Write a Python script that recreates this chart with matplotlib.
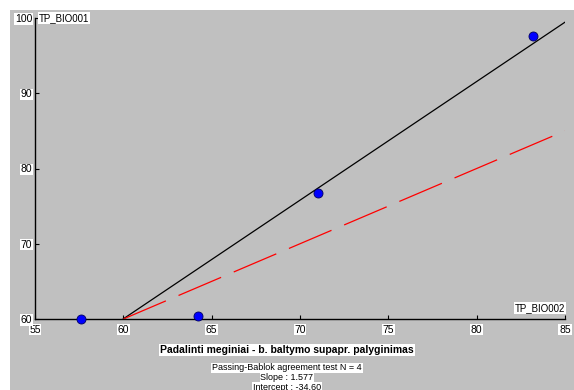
import matplotlib.pyplot as plt
import matplotlib.patches as mpatches
import numpy as np

# measured pairs
x_vals = [57.6, 64.2, 71.0, 83.2]
y_vals = [60.0, 60.4, 76.7, 97.6]

slope = 1.577
intercept = -34.60
line_x = [60, 85]

xticks = [55, 60, 65, 70, 75, 80, 85]
yticks = [60, 70, 80, 90, 100]

plt.rcParams['font.family'] = ['Liberation Sans Narrow', 'Liberation Sans', 'DejaVu Sans']

fig = plt.figure(figsize=(5.74, 3.9), dpi=100)
fig.patch.set_facecolor('white')
fig.patches.append(mpatches.Rectangle((10 / 574, 0), 1, 380 / 390, transform=fig.transFigure,
                                      facecolor='#c0c0c0', edgecolor='none', zorder=-10))

ax = fig.add_axes([35 / 574, 1 - 319 / 390, 530 / 574, 301 / 390])
ax.set_facecolor('#c0c0c0')

fit_y = [slope * v + intercept for v in line_x]
ax.plot(line_x, fit_y, color='black', lw=0.9)
ax.plot(line_x, line_x, color='red', lw=0.9, dashes=(37, 11))
ax.plot(x_vals, y_vals, 'o', color='#0000ff', mec='#000060', mew=0.6, ms=6.5, clip_on=False, zorder=5)

ax.set_xlim(55, 85)
ax.set_ylim(60, 100)
ax.set_xticks(xticks)
ax.set_yticks(yticks)
for s in ['top', 'right']:
    ax.spines[s].set_visible(False)
ax.spines['left'].set_linewidth(1.0)
ax.spines['bottom'].set_linewidth(1.0)
ax.tick_params(direction='in', length=3, width=0.8, labelsize=7.5, pad=2)
ax.tick_params(axis='x', pad=4)
box = dict(facecolor='white', edgecolor='none', pad=0.5)
for lab in ax.get_xticklabels() + ax.get_yticklabels():
    lab.set_bbox(box)

ax.text(55.2, 100, 'TP_BIO001', fontsize=7, va='center', ha='left', bbox=box)
ax.text(85, 60.8, 'TP_BIO002', fontsize=7, va='bottom', ha='right', bbox=box)

fig.text(0.5, 1 - 350 / 390, 'Padalinti meginiai - b. baltymo supapr. palyginimas',
         ha='center', va='center', fontsize=7.5, fontweight='bold', bbox=box)
fig.text(0.5, 1 - 368 / 390, 'Passing-Bablok agreement test N = 4', ha='center', va='center',
         fontsize=6.5, bbox=box)
fig.text(0.5, 1 - 378 / 390, 'Slope : 1.577', ha='center', va='center', fontsize=6.5, bbox=box)
fig.text(0.5, 1 - 387 / 390, 'Intercept : -34.60', ha='center', va='center', fontsize=6.5, bbox=box)

fig.savefig('out.png', dpi=100)
